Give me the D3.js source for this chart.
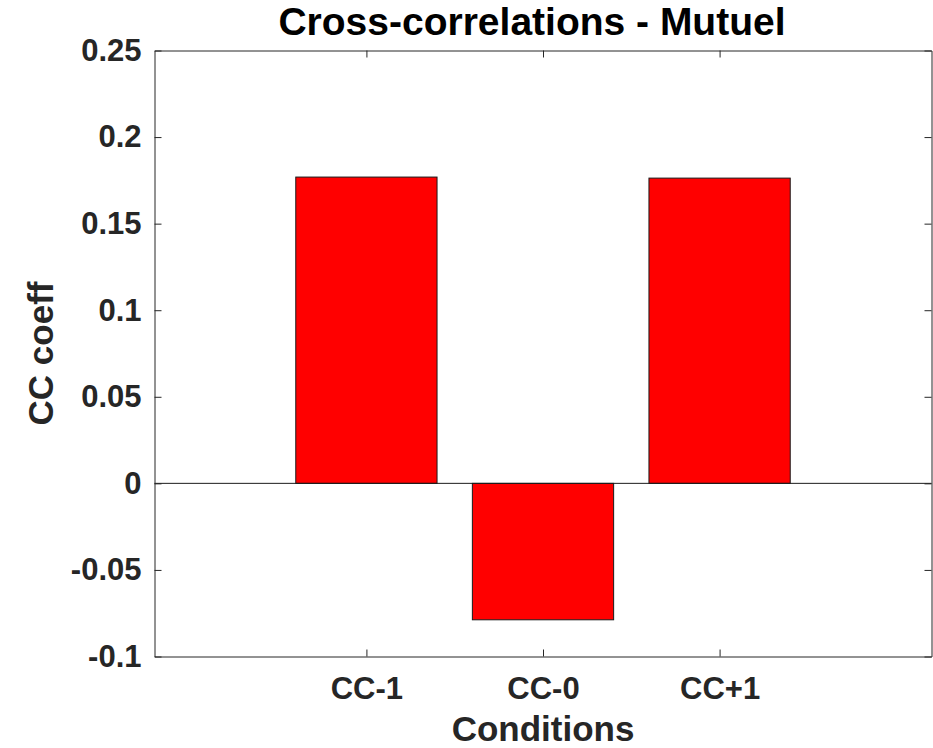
<!DOCTYPE html>
<html>
<head>
<meta charset="utf-8">
<script src="https://cdn.jsdelivr.net/npm/d3@7"></script>
<style>
  body { margin: 0; background: #fff; }
  text { font-family: "Liberation Sans", Arial, Helvetica, sans-serif; font-weight: bold; }
</style>
</head>
<body>
<div class="chart"></div>
<script>
// chart data
var conditions = ["CC-1", "CC-0", "CC+1"];
var ccValues = [0.1769, -0.0788, 0.1763];
var yTickValues = [-0.1, -0.05, 0, 0.05, 0.1, 0.15, 0.2, 0.25];

var svgWidth = 933;
var svgHeight = 748;

var margin = {
    top: 50.5,
    right: 1.5,
    bottom: 91.5,
    left: 154.5
};

var width = svgWidth - margin.left - margin.right;
var height = svgHeight - margin.top - margin.bottom;

var svg = d3
    .select(".chart")
    .append("svg")
    .attr("width", svgWidth)
    .attr("height", svgHeight);

var chartGroup = svg.append("g")
    .attr("transform", `translate(${margin.left}, ${margin.top})`);

// categories sit at 1, 2, 3 with matlab-like padding
var xLinearScale = d3.scaleLinear()
    .domain([-0.2, 4.2])
    .range([0, width]);

var yLinearScale = d3.scaleLinear()
    .domain([-0.1, 0.25])
    .range([height, 0]);

var barWidth = 0.8;
var axisColor = "#262626";

// bars
chartGroup.selectAll("rect.bar")
    .data(ccValues)
    .enter()
    .append("rect")
    .attr("class", "bar")
    .attr("x", (d, i) => xLinearScale(i + 1 - barWidth / 2))
    .attr("width", xLinearScale(barWidth) - xLinearScale(0))
    .attr("y", d => yLinearScale(Math.max(0, d)))
    .attr("height", d => Math.abs(yLinearScale(d) - yLinearScale(0)))
    .attr("fill", "#ff0000")
    .attr("stroke", "#1a1a1a")
    .attr("stroke-width", 1);

// baseline at zero
chartGroup.append("line")
    .attr("x1", 0)
    .attr("x2", width)
    .attr("y1", yLinearScale(0))
    .attr("y2", yLinearScale(0))
    .attr("stroke", "#1a1a1a")
    .attr("stroke-width", 1);

// axes (ticks point inward like matlab)
var tickFmt = d => String(+d.toFixed(2));

var bottomAxis = d3.axisBottom(xLinearScale)
    .tickValues([1, 2, 3])
    .tickFormat((d, i) => conditions[i])
    .tickSizeInner(-7)
    .tickSizeOuter(0)
    .tickPadding(22);

var topAxis = d3.axisTop(xLinearScale)
    .tickValues([1, 2, 3])
    .tickFormat("")
    .tickSizeInner(-7)
    .tickSizeOuter(0);

var leftAxis = d3.axisLeft(yLinearScale)
    .tickValues(yTickValues)
    .tickFormat(tickFmt)
    .tickSizeInner(-7)
    .tickSizeOuter(0)
    .tickPadding(13);

var rightAxis = d3.axisRight(yLinearScale)
    .tickValues(yTickValues)
    .tickFormat("")
    .tickSizeInner(-7)
    .tickSizeOuter(0);

var xAxis = chartGroup.append("g")
    .attr("transform", `translate(0, ${height})`)
    .call(bottomAxis);
var xAxisTop = chartGroup.append("g")
    .call(topAxis);
var yAxis = chartGroup.append("g")
    .call(leftAxis);
var yAxisRight = chartGroup.append("g")
    .attr("transform", `translate(${width}, 0)`)
    .call(rightAxis);

[xAxis, xAxisTop, yAxis, yAxisRight].forEach(function(ax) {
    ax.selectAll("path, line").attr("stroke", axisColor).attr("stroke-width", 1);
    ax.selectAll("text")
        .attr("fill", axisColor)
        .style("font-size", "31px");
});
xAxis.selectAll("text").attr("dy", 0).attr("y", 42);

// title and labels
svg.append("text")
    .attr("x", 532)
    .attr("y", 35)
    .attr("text-anchor", "middle")
    .attr("fill", "#000")
    .style("font-size", "39px")
    .text("Cross-correlations - Mutuel");

svg.append("text")
    .attr("x", margin.left + width / 2)
    .attr("y", 741)
    .attr("text-anchor", "middle")
    .attr("fill", axisColor)
    .style("font-size", "35px")
    .text("Conditions");

svg.append("text")
    .attr("transform", `translate(53, ${margin.top + height / 2}) rotate(-90)`)
    .attr("text-anchor", "middle")
    .attr("fill", axisColor)
    .style("font-size", "35px")
    .text("CC coeff");
</script>
</body>
</html>
